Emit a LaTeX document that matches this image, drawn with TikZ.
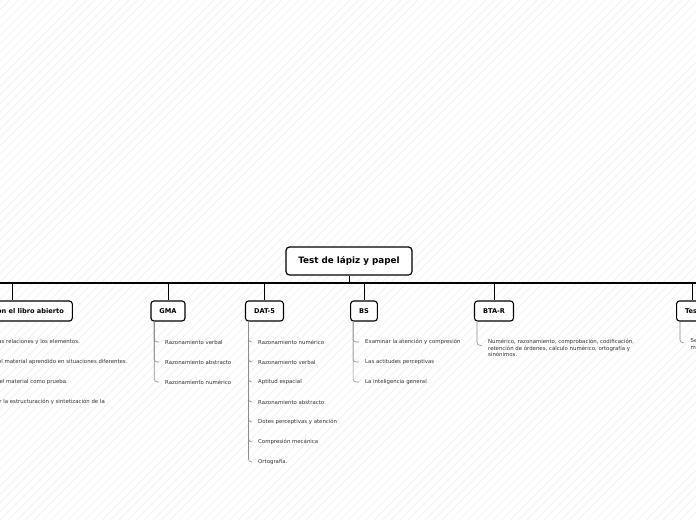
\documentclass[tikz,border=0pt]{standalone}
\usepackage{fontspec}
\setmainfont{DejaVu Sans}
\usetikzlibrary{calc}
\definecolor{leaftxt}{HTML}{333333}
\definecolor{leafline}{HTML}{8C8C8C}
\definecolor{hatch}{HTML}{EFEFEF}
\begin{document}
\begin{tikzpicture}[x=1pt,y=-1pt,
  rootbox/.style={draw=black,line width=1.2pt,rounded corners=3.5pt,fill=white,
    minimum width=126pt,minimum height=28pt,inner sep=0pt,
    font=\fontsize{8.8}{10}\selectfont\bfseries},
  kidbox/.style={draw=black,line width=1.1pt,rounded corners=3pt,fill=white,
    minimum height=20pt,inner xsep=8.5pt,inner ysep=0pt,
    font=\fontsize{6.6}{8}\selectfont\bfseries},
  leaf/.style={inner sep=0pt,text=leaftxt,font=\fontsize{5.4}{6.5}\selectfont},
  stem/.style={draw=black,line width=0.9pt},
  twig/.style={draw=leafline,line width=0.6pt,rounded corners=3pt},
]
\useasboundingbox (0,0) rectangle (696,520);
\fill[white] (0,0) rectangle (696,520);
\begin{scope}
\clip (0,0) rectangle (696,520);
\foreach \i in {-527,-518.5,...,700}{
  \draw[hatch,line width=0.6pt] (\i,520) -- ($(\i,520)+(520,-520)$);
}
\end{scope}

% bus
\coordinate (busL) at (-10,283);
\coordinate (busR) at (706,283);
\draw[black,line width=1.6pt] (busL) -- (busR);

% root
\node[rootbox] (root) at (349,261) {Test de lápiz y papel};
\draw[stem] (root.south) -- (root.south |- busL);

% children
\node[kidbox] (k1) at (12.7,311) {Examen con el libro abierto};
\node[kidbox] (k2) at (168,311) {GMA};
\node[kidbox] (k3) at (264.5,311) {DAT-5};
\node[kidbox] (k4) at (364,311) {BS};
\node[kidbox] (k5) at (494,311) {BTA-R};
\node[kidbox,anchor=west] (k6) at (676,311) {Test};
\foreach \k in {k1,k2,k3,k4,k5,k6}{
  \draw[stem] (\k.north) -- (\k.north |- busL);
}

% leaves of k1 (mostly off the left edge)
\node[leaf,anchor=east] (a1) at (80,342) {Definir las relaciones y los elementos.};
\node[leaf,anchor=east] (a2) at (127.7,362) {Aplicar el material aprendido en situaciones diferentes.};
\node[leaf,anchor=east] (a3) at (68,382) {Usar el material como prueba.};
\node[leaf,anchor=east] (a4) at (105,402) {Evaluar la estructuración y sintetización de la};

% leaves of k2
\node[leaf,anchor=west] (b1) at (165,342) {Razonamiento verbal};
\node[leaf,anchor=west] (b2) at (165,362) {Razonamiento abstracto};
\node[leaf,anchor=west] (b3) at (165,382) {Razonamiento numérico};
\foreach \l in {b1,b2,b3}{
  \draw[twig] ($(k2.south west)+(3.8,0)$) |- ($(\l.west)+(-6,0)$);
}

% leaves of k3
\node[leaf,anchor=west] (c1) at (258,342) {Razonamiento numérico};
\node[leaf,anchor=west] (c2) at (258,362) {Razonamiento verbal};
\node[leaf,anchor=west] (c3) at (258,382) {Aptitud espacial};
\node[leaf,anchor=west] (c4) at (258,402) {Razonamiento abstracto};
\node[leaf,anchor=west] (c5) at (258,422) {Dotes perceptivas y atención};
\node[leaf,anchor=west] (c6) at (258,442) {Compresión mecánica};
\node[leaf,anchor=west] (c7) at (258,462) {Ortografía.};
\foreach \l in {c1,c2,c3,c4,c5,c6,c7}{
  \draw[twig] ($(k3.south west)+(3.5,0)$) |- ($(\l.west)+(-6,0)$);
}

% leaves of k4
\node[leaf,anchor=west] (d1) at (365,342) {Examinar la atención y compresión};
\node[leaf,anchor=west] (d2) at (365,362) {Las actitudes perceptivas};
\node[leaf,anchor=west] (d3) at (365,382) {La inteligencia general};
\foreach \l in {d1,d2,d3}{
  \draw[twig] ($(k4.south west)+(3,0)$) |- ($(\l.west)+(-6,0)$);
}

% leaf of k5
\node[leaf,anchor=north west,align=left] (e1) at (488,339.3)
  {Numérico, razonamiento, comprobación, codificación,\\
   retención de órdenes, cálculo numérico, ortografía y\\
   sinónimos.};
\draw[twig] ($(k5.south west)+(3,0)$) |- ($(e1.north west)+(-6,6)$);

% leaf of k6
\node[leaf,anchor=north west,align=left] (f1) at (690.5,338.3) {Se\\m};
\draw[twig] ($(k6.south west)+(4,0)$) |- ($(f1.north west)+(-6,4.5)$);

% connectors of k1 leaves (off the left edge)
\foreach \l in {a1,a2,a3,a4}{
  \draw[twig] ($(k1.south west)+(3.5,0)$) |- ($(\l.west)+(-6,0)$);
}
\end{tikzpicture}
\end{document}
